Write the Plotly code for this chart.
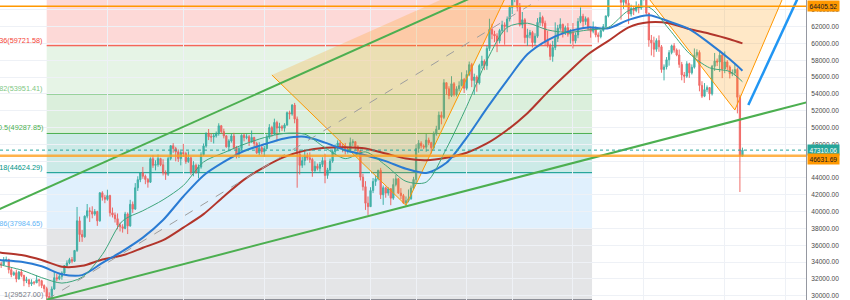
import plotly.graph_objects as go
import pandas as pd

# ---------------- data ----------------
candle_start = "2021-07-10 12:00"   # 12-hour candles
first_open = 34050
closes = [
    33800,
    33650, 34250, 34300, 33090, 32500, 32730, 32000, 32820, 32400, 31780,
    31900, 31390, 31600, 31530, 31900, 31780, 31200, 30840, 29900, 29790,
    30800, 32140, 32000, 32290, 32700, 33580, 33900, 34290, 34100, 35380,
    38900, 37270, 37000, 39460, 40100, 40020, 39700, 40010, 38900, 42230,
    41700, 41460, 41900, 39850, 39600, 39150, 38400, 38200, 38000, 39720,
    38300, 40870, 40300, 42830, 43800, 44610, 44200, 43820, 43500, 46290,
    45500, 45600, 46300, 45560, 44600, 44430, 46300, 47830, 47500, 47100,
    46300, 47020, 46900, 45940, 46400, 44690, 45500, 44710, 45300, 46760,
    47800, 49340, 48900, 48870, 49000, 49290, 50200, 49510, 49000, 47700,
    48400, 48990, 47600, 46840, 47500, 49070, 48800, 48900, 48300, 48810,
    48100, 46990, 47600, 47130, 47500, 48830, 50000, 49290, 50600, 49940,
    50100, 49920, 50300, 51760, 51600, 52660, 51000, 46860, 45500, 46060,
    46600, 46400, 46200, 44850, 45400, 45140, 45600, 46060, 44300, 44960,
    46000, 47130, 47600, 48150, 47800, 47760, 47200, 47300, 48200, 48310,
    47700, 47250, 44100, 42960, 41000, 40590, 42500, 43580, 43900, 44900,
    42000, 42840, 42200, 42720, 41600, 43210, 43900, 42200, 41900, 41030,
    41300, 41520, 42800, 43820, 47500, 48140, 47800, 47660, 48500, 48200,
    47600, 49220, 49800, 51470, 51200, 55320, 54600, 53790, 55200, 53950,
    54600, 54970, 55700, 54660, 56300, 57470, 55600, 56000, 55300, 57370,
    57900, 57350, 59400, 61670, 61100, 60880, 60300, 61530, 62200, 62010,
    62900, 64280, 65300, 66000, 64300, 62210, 62800, 60690, 61000, 61290,
    60100, 60860, 62500, 63080, 62400, 60330, 59800, 58450, 59500, 60590,
    61800, 62250, 61300, 61860, 61100, 61320, 60300, 61000, 62600, 63220,
    62600, 62940, 61800, 61440, 61900, 61010, 60800, 61530, 62000, 63270,
    65500, 67530, 67800, 66930, 67300, 64880, 65200, 64770, 63500, 64150,
    63900, 64380, 64200, 65470, 65900, 63600, 60400, 60060, 59300, 60340,
    59600, 56890, 57200, 58050, 58900, 59710, 59200, 58620, 57500, 56250,
    56100, 57570, 56500, 57160, 58600, 58930, 55000, 53720, 54500, 54740,
    54000, 57270, 57900, 57790, 58600, 56950, 57800, 57180, 56400, 56480,
    56900, 53600, 46600, 47310,
]
highs = [
    34300,
    34050, 34600, 34650, 34400, 33340, 32900, 33100, 32950, 33180, 32500,
    32250, 31950, 31950, 31750, 32440, 32000, 31890, 31350, 31060, 30400,
    31100, 32860, 32600, 32550, 32900, 33650, 34200, 34500, 34600, 35400,
    40550, 39400, 37800, 39540, 40900, 40500, 40630, 40300, 40100, 42320,
    42420, 42000, 42600, 42000, 40480, 39900, 39780, 38700, 38500, 39970,
    39900, 41400, 41200, 43390, 44200, 44700, 45310, 44400, 44000, 46450,
    46700, 46100, 46780, 46400, 46220, 44900, 46500, 47890, 48140, 47700,
    47390, 47200, 48050, 47100, 47160, 46500, 46000, 45700, 45600, 47050,
    48100, 49380, 49820, 49300, 49300, 49520, 50500, 50300, 49860, 49100,
    48600, 49230, 49360, 47800, 47700, 49180, 49300, 49200, 49100, 49640,
    48900, 48300, 48250, 47900, 47800, 49160, 50400, 50200, 51050, 50800,
    50560, 50300, 50500, 51900, 52000, 52780, 52920, 51300, 47380, 46500,
    47400, 47000, 47040, 46400, 45990, 45700, 45900, 46460, 46880, 45200,
    46300, 47250, 48000, 48470, 48490, 48100, 48160, 47700, 48800, 48600,
    48360, 47900, 47340, 44500, 43620, 41800, 42900, 44000, 44300, 44980,
    45200, 43100, 42970, 42900, 42800, 43940, 44350, 44000, 42790, 42100,
    41800, 42630, 43100, 44130, 48000, 48500, 48360, 48000, 49230, 48800,
    48300, 49530, 50200, 51890, 51900, 55750, 55340, 54900, 56100, 55400,
    54900, 55490, 56560, 55900, 56800, 57840, 57680, 56400, 56200, 57580,
    58530, 58100, 59700, 62930, 62330, 61500, 61200, 61730, 62690, 62500,
    63200, 64490, 66000, 67000, 66640, 64800, 63730, 63000, 61740, 61600,
    61490, 61200, 63000, 63710, 63290, 62700, 61500, 60000, 60300, 62500,
    62200, 62980, 62360, 62100, 62410, 61700, 62420, 61300, 63000, 64270,
    63520, 63200, 63120, 62000, 62600, 62000, 61300, 61560, 62300, 63290,
    66000, 67790, 68520, 68000, 67800, 69000, 65600, 65400, 65460, 64600,
    64400, 64990, 64700, 65550, 66400, 66100, 63620, 61000, 60800, 60600,
    60950, 59800, 57500, 58370, 59200, 59850, 60030, 59400, 59270, 57800,
    56600, 57880, 57700, 57500, 59400, 59300, 59170, 55500, 55280, 55000,
    54800, 57440, 58860, 58200, 59200, 58800, 59040, 58000, 57380, 56900,
    57600, 57100, 53900, 47600,
]
lows = [
    33500,
    33300, 33600, 34050, 32650, 32200, 32350, 31600, 31900, 32200, 31130,
    31500, 31020, 31160, 31300, 31500, 31100, 30900, 30400, 29527, 29600,
    29650, 30700, 31700, 31850, 31900, 32600, 33400, 33750, 33850, 34000,
    35200, 36400, 36400, 36900, 39200, 38770, 39200, 39500, 38300, 38800,
    41300, 41000, 41300, 39420, 39300, 38700, 37900, 37640, 37500, 37900,
    37330, 38200, 39850, 40200, 42450, 43500, 43900, 43260, 42850, 43400,
    45200, 44900, 45340, 45400, 44300, 43770, 44230, 46100, 47000, 45970,
    45900, 45500, 46500, 45680, 45800, 44380, 44200, 44500, 43950, 45100,
    46630, 47600, 48500, 48280, 48100, 48800, 49030, 49300, 48700, 47600,
    47150, 48200, 47400, 46320, 46370, 47300, 48350, 48600, 47800, 48200,
    47700, 46850, 46700, 46800, 46510, 47400, 48620, 48900, 49100, 48350,
    49400, 49600, 49500, 50200, 50970, 51400, 50500, 42840, 44410, 45200,
    45500, 46100, 45800, 44140, 44740, 44900, 44740, 45300, 43370, 43900,
    44750, 45800, 46690, 47300, 47400, 47050, 46800, 46900, 47040, 47800,
    47300, 46850, 43700, 42500, 40200, 39600, 40560, 42200, 43060, 43700,
    41500, 40800, 41650, 41900, 40760, 41400, 43000, 42100, 41500, 40900,
    40750, 41100, 41410, 42600, 43290, 47000, 47500, 47430, 47100, 47900,
    46890, 47400, 49020, 49700, 50380, 51000, 53900, 53360, 53620, 53700,
    53700, 54300, 54900, 54100, 54420, 56100, 54800, 53880, 54250, 55100,
    57000, 56820, 56860, 59100, 60500, 60150, 58960, 60000, 61200, 59840,
    61320, 62600, 63480, 64900, 63800, 62000, 61800, 60000, 59710, 60600,
    59510, 59800, 60660, 62100, 62000, 59810, 59500, 58000, 57820, 59200,
    60170, 61500, 60700, 61000, 60800, 59980, 59400, 60000, 60620, 62400,
    61700, 62200, 61500, 60680, 61200, 60720, 60100, 60600, 61380, 61900,
    63100, 65200, 67000, 66380, 66500, 62820, 64100, 64300, 62300, 63200,
    63360, 63700, 63580, 64000, 65100, 63400, 59600, 58560, 58370, 59000,
    59000, 56510, 55600, 56900, 57350, 58700, 58900, 58470, 57100, 55610,
    55300, 55900, 55900, 56300, 57000, 58300, 54300, 53500, 53610, 54200,
    53250, 53800, 56730, 57300, 56600, 55870, 56460, 56800, 55830, 56100,
    56200, 51680, 42330, 46500,
]

# moving averages
ma_dates = ["2021-07-10 12:00", "2021-07-11", "2021-07-15", "2021-07-19", "2021-07-23",
            "2021-07-27", "2021-07-31", "2021-08-04", "2021-08-08", "2021-08-12",
            "2021-08-16", "2021-08-20", "2021-08-24", "2021-08-28", "2021-09-01",
            "2021-09-05", "2021-09-09", "2021-09-13", "2021-09-17", "2021-09-21",
            "2021-09-25", "2021-09-29", "2021-10-03", "2021-10-07", "2021-10-11",
            "2021-10-15", "2021-10-19", "2021-10-23", "2021-10-27", "2021-10-31",
            "2021-11-04", "2021-11-08", "2021-11-12", "2021-11-16", "2021-11-20",
            "2021-11-24", "2021-11-28", "2021-12-02", "2021-12-04 12:00"]
ma_fast = [33750, 33650, 33050, 32150, 31500, 32200, 34900, 38900, 40100, 41400,
           43100, 45900, 47000, 48000, 48800, 49300, 49200, 47600, 46300, 47100,
           45500, 43600, 43500, 47500, 52500, 58000, 61900, 62400, 61600, 61300,
           61600, 61900, 63900, 64300, 61700, 58800, 57100, 56650, 55440]
ma_mid = [34250, 34220, 34030, 33500, 32550, 32450, 33900, 35300, 36900, 39000,
          41800, 44300, 45900, 47200, 48000, 48700, 48900, 48200, 47300, 46700,
          46000, 45100, 44600, 45800, 48800, 52300, 55600, 58700, 60400, 61400,
          61900, 61800, 62800, 63350, 62600, 61700, 60000, 58100, 56750]
ma_slow = [35150, 35110, 34850, 34250, 33450, 33550, 34300, 34800, 35700, 36600,
           38100, 39700, 41800, 43800, 45300, 46500, 47250, 47600, 47650, 47500,
           46900, 46300, 46100, 46400, 47000, 48100, 49700, 51700, 54200, 56500,
           58700, 60300, 61900, 62500, 62400, 61700, 61150, 60500, 60000]

# fibonacci retracement drawing
fib_start = "2021-07-20 00:00"
fib_end = "2021-11-04 18:30"
fib_ratios = ["0", "0.236", "0.382", "0.5", "0.618", "0.786", "1"]
fib_prices = [69048.69, 59721.58, 53951.41, 49287.85, 44624.29, 37984.65, 29527.00]
fib_colors = ["#787b86", "#f44336", "#81c784", "#4caf50", "#009688", "#64b5f6", "#787b86"]

# other drawings (anchor points)
upper_trend_x = ["2021-07-10 00:00", "2021-11-01 00:00"]
upper_trend_y = [40107, 70830]
lower_trend_x = ["2021-07-20 00:00", "2021-12-20 00:00"]
lower_trend_y = [29527, 53435]
blue_line_x = ["2021-12-05 15:50", "2021-12-17 02:25"]
blue_line_y = [52674, 67537]
tri1_x = ["2021-09-02 12:00", "2021-09-29 00:00", "2021-10-21 20:25"]
tri1_y = [56241, 40750, 69463]
tri2_x = ["2021-11-10 02:30", "2021-12-03 00:00", "2021-12-15 16:50"]
tri2_y = [69915, 52080, 69915]
hline_top = 64405.52
hline_mid = 46631.69
last_price = 47310.06

x_range = ["2021-07-10 18:30", "2021-12-17 01:25"]
y_range = [29489, 65158]
y_ticks = list(range(30000, 64001, 2000))
x_grid = ["2021-08-01", "2021-08-16", "2021-09-01", "2021-09-13", "2021-09-22", "2021-10-01",
          "2021-10-11", "2021-10-20", "2021-11-01", "2021-11-15", "2021-12-01", "2021-12-13"]

# ---------------- figure ----------------
times = pd.date_range(candle_start, periods=len(closes), freq="12h")
opens = [first_open] + closes[:-1]
hi = [max(h, o, c) for h, o, c in zip(highs, opens, closes)]
lo = [min(l, o, c) for l, o, c in zip(lows, opens, closes)]

FONT = "Liberation Sans, Arial, sans-serif"
fig = go.Figure()

fig.add_trace(go.Candlestick(
    x=times, open=opens, high=hi, low=lo, close=closes,
    increasing=dict(line=dict(color="#26a69a", width=1), fillcolor="#26a69a"),
    decreasing=dict(line=dict(color="#ef5350", width=1), fillcolor="#ef5350"),
    opacity=0.85, showlegend=False, hoverinfo="skip"))

for tx, ty in [(tri1_x, tri1_y), (tri2_x, tri2_y)]:
    fig.add_trace(go.Scatter(x=tx, y=ty, mode="lines", fill="toself",
                             fillcolor="rgba(255,152,0,0.22)",
                             line=dict(color="#ff9800", width=1),
                             showlegend=False, hoverinfo="skip"))

for vals, col, w in [(ma_slow, "#b2352b", 2), (ma_mid, "#2a7bd3", 2), (ma_fast, "#3ea57c", 1)]:
    fig.add_trace(go.Scatter(x=ma_dates, y=vals, mode="lines",
                             line=dict(color=col, width=w, shape="spline", smoothing=0.8),
                             showlegend=False, hoverinfo="skip"))

shapes = []
# fib bands and levels
for i in range(1, len(fib_prices)):
    shapes.append(dict(type="rect", xref="x", yref="y", x0=fib_start, x1=fib_end,
                       y0=fib_prices[i - 1], y1=fib_prices[i], layer="below",
                       fillcolor=fib_colors[i], opacity=0.2, line=dict(width=0)))
for p, c in zip(fib_prices, fib_colors):
    shapes.append(dict(type="line", xref="x", yref="y", x0=fib_start, x1=fib_end,
                       y0=p, y1=p, layer="below", line=dict(color=c, width=1)))
# fib diagonal
shapes.append(dict(type="line", xref="x", yref="y", x0=fib_start, x1=fib_end,
                   y0=fib_prices[-1], y1=fib_prices[0],
                   line=dict(color="#9e9e9e", width=1, dash="dash")))
# trend lines
shapes.append(dict(type="line", xref="x", yref="y", x0=upper_trend_x[0], x1=upper_trend_x[1],
                   y0=upper_trend_y[0], y1=upper_trend_y[1], line=dict(color="#4caf50", width=2)))
shapes.append(dict(type="line", xref="x", yref="y", x0=lower_trend_x[0], x1=lower_trend_x[1],
                   y0=lower_trend_y[0], y1=lower_trend_y[1], line=dict(color="#4caf50", width=2)))
shapes.append(dict(type="line", xref="x", yref="y", x0=blue_line_x[0], x1=blue_line_x[1],
                   y0=blue_line_y[0], y1=blue_line_y[1], line=dict(color="#2196f3", width=2.5)))
# horizontal lines
shapes.append(dict(type="line", xref="paper", yref="y", x0=0, x1=1, y0=hline_top, y1=hline_top,
                   line=dict(color="#ff9800", width=1.5)))
shapes.append(dict(type="line", xref="paper", yref="y", x0=0, x1=1, y0=hline_mid, y1=hline_mid,
                   line=dict(color="rgba(255,160,30,0.8)", width=2.5)))
shapes.append(dict(type="line", xref="paper", yref="y", x0=0, x1=1, y0=last_price, y1=last_price,
                   line=dict(color="#26a69a", width=1, dash="dot")))

annotations = []
for r, p, c in zip(fib_ratios, fib_prices, fib_colors):
    annotations.append(dict(xref="x", yref="y", x=fib_start, y=p, xanchor="right", yanchor="bottom",
                            xshift=-2, yshift=-1, showarrow=False,
                            text=f"{r}({p:.2f})", font=dict(family=FONT, size=7.3, color=c)))
for p, bg, fc, ys in [(hline_top, "#ff9800", "#131722", 0),
                      (last_price, "#26a69a", "#ffffff", 0),
                      (hline_mid, "#ff9800", "#131722", -3)]:
    annotations.append(dict(xref="paper", yref="y", x=1, y=p, xanchor="left", yanchor="middle",
                            xshift=1, yshift=ys, showarrow=False, text=f"{p:.2f}", bgcolor=bg,
                            borderpad=1.5, font=dict(family=FONT, size=6.6, color=fc)))

fig.update_layout(
    width=850, height=300, margin=dict(l=0, r=44, t=0, b=0),
    paper_bgcolor="white", plot_bgcolor="white", template="none",
    shapes=shapes, annotations=annotations, showlegend=False,
    xaxis=dict(type="date", range=x_range, rangeslider=dict(visible=False),
               showticklabels=False, tickvals=x_grid, showgrid=True, gridcolor="#eef1f6",
               gridwidth=1, zeroline=False, showline=False, ticks="", automargin=False),
    yaxis=dict(side="right", range=y_range, tickvals=y_ticks, tickformat=".2f",
               showgrid=True, gridcolor="#eef1f6", gridwidth=1, zeroline=False,
               showline=True, linecolor="#9598a1", linewidth=1, mirror=False,
               ticks="outside", ticklen=3, tickcolor="rgba(0,0,0,0)",
               tickfont=dict(family=FONT, size=6.6, color="#4a4a4a"), automargin=False),
)

fig.write_html("out.html")
